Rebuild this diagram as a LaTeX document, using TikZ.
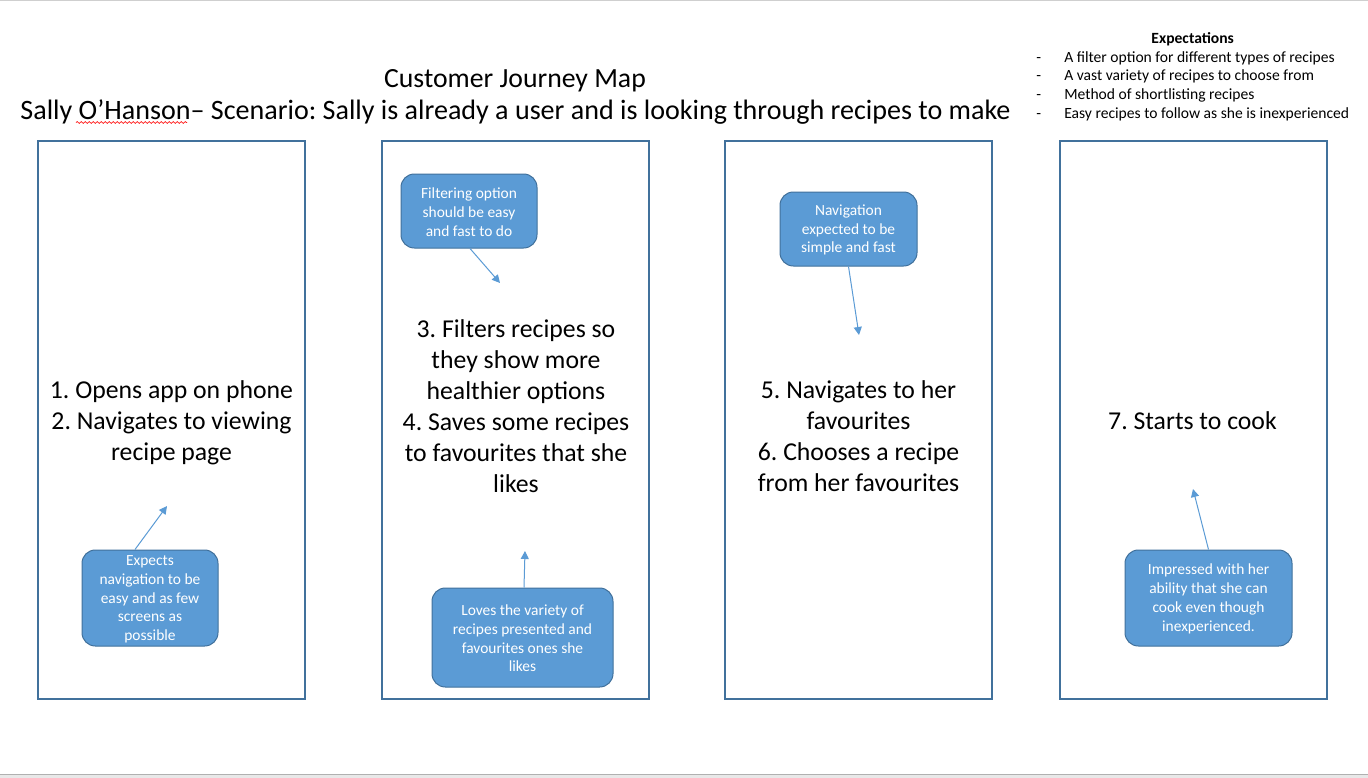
\documentclass[tikz,border=0pt]{standalone}
\usepackage{fontspec}
\setmainfont{Carlito}
\frenchspacing
\usetikzlibrary{arrows.meta,decorations.pathmorphing,calc}
\definecolor{boxline}{HTML}{41719C}
\definecolor{callfill}{HTML}{5B9BD5}
\definecolor{arrowc}{HTML}{5B9BD5}
\definecolor{edgegray}{HTML}{CFCFCF}
\definecolor{bargray}{HTML}{E8E8E8}
\begin{document}
\begin{tikzpicture}[x=0.75pt,y=-0.75pt,
  stagebox/.style={draw=boxline, line width=1pt, minimum width=200.25pt, minimum height=418.5pt, inner sep=0pt},
  callout/.style={draw=boxline, fill=callfill, line width=0.75pt, rounded corners=10pt, text=white, align=center, font=\fontsize{11.6}{14.06}\selectfont, inner sep=0pt},
  steptext/.style={align=center, font=\fontsize{19.3}{23.25}\selectfont, inner sep=0pt},
  pointer/.style={draw=arrowc, line width=0.75pt, -{Triangle[length=6pt,width=6pt]}},
  expitem/.style={anchor=base west, inner sep=0pt, font=\fontsize{11.7}{14}\selectfont}
]
\useasboundingbox (0,0) rectangle (1368,778);
\fill[white] (0,0) rectangle (1368,778);
% window edges
\fill[edgegray] (0,0) rectangle (1368,1.5);
\fill[bargray] (0,774) rectangle (1368,778);
\draw[edgegray!85!black, line width=0.75pt] (0,774) -- (1368,774);

% title
\node[anchor=base, inner sep=0pt, font=\fontsize{20.8}{25}\selectfont] (title) at (515,87) {Customer Journey Map};
\node[anchor=base, inner sep=0pt, font=\fontsize{21.05}{25}\selectfont] (subtitle) at (515.5,119) {Sally O’Hanson– Scenario: Sally is already a user and is looking through recipes to make};
\coordinate (wavyA) at (76,122.5);
\coordinate (wavyB) at (187,122.5);
\draw[red, line width=0.5pt, decorate, decoration={snake, amplitude=0.7pt, segment length=3pt}] (wavyA) -- (wavyB);

% expectations
\node[anchor=base, inner sep=0pt, font=\bfseries\fontsize{11.7}{14}\selectfont] (exph) at (1192.7,43.5) {Expectations};
\node[expitem] (d1) at (1036,62.2) {-};
\node[expitem] (d2) at (1036,80.9) {-};
\node[expitem] (d3) at (1036,99.6) {-};
\node[expitem] (d4) at (1036,118.3) {-};
\node[expitem] (e1) at (1064,62.2) {A filter option for different types of recipes};
\node[expitem] (e2) at (1064,80.9) {A vast variety of recipes to choose from};
\node[expitem] (e3) at (1064,99.6) {Method of shortlisting recipes};
\node[expitem] (e4) at (1064,118.3) {Easy recipes to follow as she is inexperienced};

% stage boxes
\node[stagebox] (b1) at (171.5,420) {};
\node[stagebox] (b2) at (515.5,420) {};
\node[stagebox] (b3) at (858.5,420) {};
\node[stagebox] (b4) at (1193.5,420) {};

% step texts
\node[steptext] (s1) at (171.5,423) {1. Opens app on phone\\2. Navigates to viewing\\recipe page};
\node[steptext] (s2) at (516,406) {3. Filters recipes so\\they show more\\healthier options\\4. Saves some recipes\\to favourites that she\\likes};
\node[steptext] (s3) at (858.5,436.5) {5. Navigates to her\\favourites\\6. Chooses a recipe\\from her favourites};
\node[steptext] (s4) at (1192.5,421) {7. Starts to cook};

% callouts
\node[callout, minimum width=102pt, minimum height=72pt] (c1) at (150,598) {\rule{0pt}{9.5pt}Expects\\navigation to be\\easy and as few\\screens as\\possible};
\node[callout, minimum width=102pt, minimum height=55.5pt] (c2) at (469,211) {\rule{0pt}{9.5pt}Filtering option\\should be easy\\and fast to do};
\node[callout, minimum width=102.75pt, minimum height=55.5pt] (c3) at (848.5,229) {\rule{0pt}{9.5pt}Navigation\\expected to be\\simple and fast};
\node[callout, minimum width=135.75pt, minimum height=74.25pt] (c4) at (522.5,637.5) {\rule{0pt}{9.5pt}Loves the variety of\\recipes presented and\\favourites ones she\\likes};
\node[callout, minimum width=125.25pt, minimum height=72pt] (c5) at (1208.5,598) {\rule{0pt}{9.5pt}Impressed with her\\ability that she can\\cook even though\\inexperienced.};

% pointer tips
\coordinate (t1) at (167,506);
\coordinate (t2) at (500,283);
\coordinate (t3) at (859,335);
\coordinate (t4) at (525,551);
\coordinate (t5) at (1193,489);

\draw[pointer] ($(c1.north)+(-15,0)$) -- (t1);
\draw[pointer] ($(c2.south)+(1,0)$) -- (t2);
\draw[pointer] (c3.south) -- (t3);
\draw[pointer] ($(c4.north)+(1.5,0)$) -- (t4);
\draw[pointer] (c5.north) -- (t5);
\end{tikzpicture}
\end{document}
